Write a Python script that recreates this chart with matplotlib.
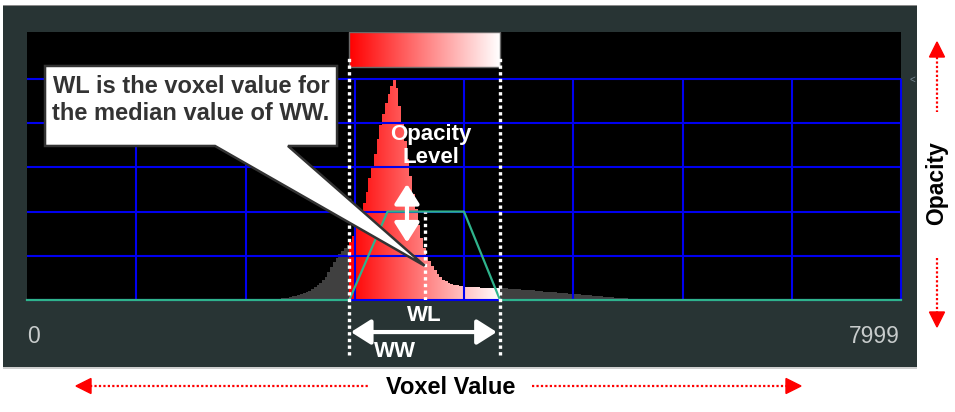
import numpy as np
import matplotlib
matplotlib.use('Agg')
import matplotlib.pyplot as plt
from matplotlib.patches import Rectangle, Polygon

plt.rcParams['font.family'] = ['Liberation Sans', 'DejaVu Sans']

# histogram of voxel values (bin width 25, first bin starts at 2250)
hist_start = 2250
hist_width = 25
hist_vals = [0.000, 0.003, 0.005, 0.007, 0.009, 0.011, 0.014, 0.016, 0.019, 0.022,
             0.026, 0.030, 0.036, 0.042, 0.050, 0.058, 0.066, 0.075, 0.090, 0.105,
             0.125, 0.150, 0.170, 0.190, 0.208, 0.222, 0.236, 0.248, 0.262, 0.290,
             0.340, 0.370, 0.400, 0.440, 0.490, 0.550, 0.600, 0.660, 0.730, 0.790,
             0.840, 0.890, 0.930, 0.970, 1.000, 0.960, 0.880, 0.800, 0.720, 0.640,
             0.560, 0.480, 0.410, 0.340, 0.280, 0.235, 0.200, 0.175, 0.155, 0.135,
             0.118, 0.103, 0.092, 0.084, 0.078, 0.073, 0.069, 0.066, 0.064, 0.062,
             0.061, 0.060, 0.059, 0.058, 0.057, 0.057, 0.056, 0.056, 0.055, 0.055,
             0.054, 0.054, 0.054, 0.054, 0.053, 0.053, 0.052, 0.051, 0.050, 0.049,
             0.048, 0.047, 0.046, 0.045, 0.044, 0.043, 0.041, 0.040, 0.039, 0.038,
             0.037, 0.036, 0.035, 0.034, 0.033, 0.032, 0.031, 0.030, 0.029, 0.028,
             0.027, 0.026, 0.025, 0.024, 0.023, 0.022, 0.021, 0.020, 0.019, 0.018,
             0.017, 0.015, 0.014, 0.013, 0.012, 0.011, 0.010, 0.009, 0.008, 0.007,
             0.006, 0.005, 0.004, 0.003, 0.002, 0.000]

# window level / width
WL = 3640
WW = 1380

# opacity curve
opac_x = [0, 2950, 3300, 4000, 4330, 8000]
opac_y = [0, 0, 0.4, 0.4, 0, 0]

x_max = 8000
grid_x = [1000, 2000, 3000, 4000, 5000, 6000, 7000, 8000]
grid_y = [0, 0.2, 0.4, 0.6, 0.8, 1.0]
tick_labels = ['0', '7999']

ww_lo = WL - WW / 2
ww_hi = WL + WW / 2

fig = plt.figure(figsize=(9.55, 4.12), dpi=100)
fig.patch.set_facecolor('white')

# decoration layer in pixel coordinates
deco = fig.add_axes([0, 0, 1, 1], zorder=0)
deco.set_xlim(0, 955)
deco.set_ylim(412, 0)
deco.axis('off')
deco.add_patch(Rectangle((3, 6), 914, 361, facecolor='#283434', edgecolor='none'))
deco.add_patch(Rectangle((3, 4.5), 914, 1.8, facecolor='#8a8a8a', edgecolor='none'))
deco.add_patch(Rectangle((3, 367), 914, 2, facecolor='#cfcfcf', edgecolor='none'))
deco.text(912, 80, '<', color='#7a8a95', fontsize=7, ha='center', va='center')

red = '#ff0000'
dots = (0, (1, 1))
# Voxel Value axis arrows
deco.text(451, 387, 'Voxel Value', fontsize=17, fontweight='bold', color='black',
          ha='center', va='center')
deco.plot([90, 369], [386, 386], color=red, lw=1.6, linestyle=dots)
deco.plot([532, 787], [386, 386], color=red, lw=1.6, linestyle=dots)
deco.add_patch(Polygon([(76, 386), (91, 378.5), (91, 393.5)], color=red))
deco.add_patch(Polygon([(801, 386), (786, 378.5), (786, 393.5)], color=red))
# Opacity axis arrows
deco.text(937, 183, 'Opacity', fontsize=16.5, fontweight='bold', color='black',
          ha='center', va='center', rotation=90)
deco.plot([937, 937], [57, 112], color=red, lw=1.6, linestyle=dots)
deco.plot([937, 937], [258, 312], color=red, lw=1.6, linestyle=dots)
deco.add_patch(Polygon([(937, 42), (929.5, 57), (944.5, 57)], color=red))
deco.add_patch(Polygon([(937, 327), (929.5, 312), (944.5, 312)], color=red))

# main histogram panel
ax = fig.add_axes([27 / 955, 1 - 300 / 412, 874 / 955, 268 / 412], zorder=1)
ax.set_facecolor('black')
for s in ax.spines.values():
    s.set_visible(False)
ax.set_xticks([])
ax.set_yticks([])

edges = hist_start + hist_width * np.arange(len(hist_vals) + 1)
step = ax.stairs(hist_vals, edges, fill=True, color='#404040', zorder=2)

grad = np.ones((1, 256, 3))
grad[0, :, 1] = np.linspace(0, 1, 256)
grad[0, :, 2] = np.linspace(0, 1, 256)
im = ax.imshow(grad, extent=[ww_lo, ww_hi, 0, 1.05], aspect='auto',
               interpolation='bilinear', zorder=2.5)
im.set_clip_path(step)

# color bar on top
ax.imshow(grad, extent=[ww_lo, ww_hi, 1.054, 1.213], aspect='auto',
          interpolation='bilinear', zorder=2.5)
ax.add_patch(Rectangle((ww_lo, 1.054), WW, 0.159, fill=False,
                       edgecolor='#6a6a6a', lw=1, zorder=2.6))

# grid
ax.hlines(grid_y, 0, x_max, color='#0000f0', lw=1.5, zorder=3, clip_on=False)
ax.vlines(grid_x, 0, 1.0, color='#0000f0', lw=1.5, zorder=3, clip_on=False)

# opacity curve
ax.plot(opac_x, opac_y, color='#2fb38c', lw=1.6, zorder=4, clip_on=False)

ax.set_xlim(0, x_max)
ax.set_ylim(0, 1.2127)

# window markers
ax.vlines([ww_lo, ww_hi], -0.25, 1.095, color='white', lw=2.4,
          linestyles=[dots], zorder=5, clip_on=False)
ax.vlines(WL, 0, 0.4, color='white', lw=2.4, linestyles=[dots], zorder=5)

# callout
callout = Polygon([(165, 1.059), (2838, 1.059), (2838, 0.697), (2389, 0.697),
                   (WL, 0.155), (1721, 0.697), (165, 0.697)],
                  closed=True, facecolor='white', edgecolor='#333333', lw=1.8,
                  zorder=6, joinstyle='miter')
ax.add_patch(callout)
ax.text(1500, 0.905, 'WL is the voxel value for\nthe median value of WW.',
        fontsize=17, fontweight='bold', color='#333333', ha='center', va='center',
        linespacing=1.2, zorder=7)

ax.text(3698, 0.697, 'Opacity\nLevel', fontsize=16, fontweight='bold',
        color='white', ha='center', va='center', linespacing=1.1, zorder=7)

arrow_style = '<|-|>,head_length=0.6,head_width=0.38'
ax.annotate('', xy=(3478, 0.26), xytext=(3478, 0.525),
            arrowprops=dict(arrowstyle=arrow_style, color='white', lw=3,
                            shrinkA=0, shrinkB=0, mutation_scale=20), zorder=7)

# WL / WW below the panel
ax.text(WL, -0.068, 'WL', fontsize=16, fontweight='bold', color='white',
        ha='center', va='center', clip_on=False)
ax.text(3368, -0.231, 'WW', fontsize=16, fontweight='bold', color='white',
        ha='center', va='center', clip_on=False)
ax.annotate('', xy=(ww_lo + 15, -0.145), xytext=(ww_hi - 30, -0.145),
            arrowprops=dict(arrowstyle=arrow_style, color='white', lw=3,
                            shrinkA=0, shrinkB=0, mutation_scale=20),
            annotation_clip=False)

ax.text(0.0, -0.136, tick_labels[0], transform=ax.transAxes, fontsize=16.5,
        color='#c8cccc', ha='left', va='center')
ax.text(0.9989, -0.136, tick_labels[1], transform=ax.transAxes, fontsize=16.5,
        color='#c8cccc', ha='right', va='center')

fig.savefig('out.png', dpi=100)
